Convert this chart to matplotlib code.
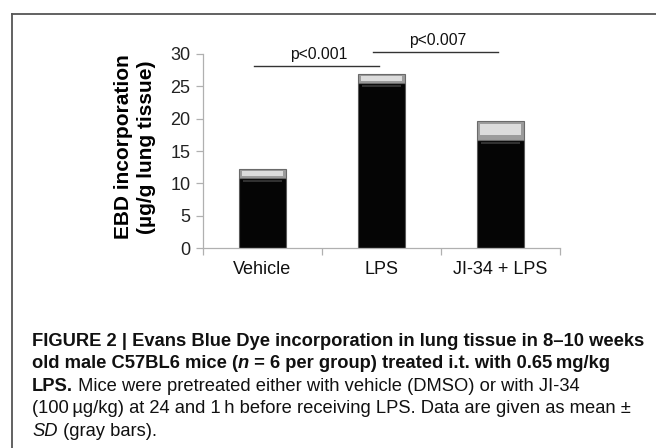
import matplotlib
matplotlib.use("Agg")
import matplotlib.pyplot as plt
from matplotlib import font_manager
from matplotlib.lines import Line2D

categories = ["Vehicle", "LPS", "JI-34 + LPS"]
means = [10.8, 25.5, 16.75]
sds = [1.4, 1.4, 2.95]
yticks = [0, 5, 10, 15, 20, 25, 30]
comparisons = [(0, 1, "p<0.001", 28.1), (1, 2, "p<0.007", 30.3)]

names = {f.name for f in font_manager.fontManager.ttflist}
chart_font = "Liberation Sans" if "Liberation Sans" in names else "DejaVu Sans"
cap_font = "Liberation Sans Narrow" if "Liberation Sans Narrow" in names else chart_font

plt.rcParams["font.family"] = chart_font

W, H = 656, 448
fig = plt.figure(figsize=(W / 100, H / 100), dpi=100)

ax = fig.add_axes([203 / W, 1 - 248 / H, 357 / W, 194 / H])
x = list(range(len(categories)))
bw = 0.4
ax.bar(x, means, width=bw, color="#050505", edgecolor="#5a5a5a", linewidth=0.8, zorder=2)
ax.hlines([m - 0.45 for m in means], [i - bw * 0.42 for i in x], [i + bw * 0.42 for i in x],
          color="#3a3a3a", lw=1.2, zorder=3)
ax.bar(x, sds, bottom=means, width=bw, color="#9c9c9c", edgecolor="#6a6a6a", linewidth=0.8, zorder=2)
ax.bar(x, [s * 0.55 for s in sds], bottom=[m + s * 0.25 for m, s in zip(means, sds)],
       width=bw * 0.88, color="#dcdcdc", edgecolor="none", zorder=3)

ax.set_xlim(-0.5, 2.5)
ax.set_ylim(0, 30)
ax.set_yticks(yticks)
ax.set_xticks(x)
ax.set_xticklabels(categories, fontsize=13)
ax.set_xticks([-0.5, 0.5, 1.5, 2.5], minor=True)
ax.tick_params(axis="x", which="major", length=0, pad=9, labelcolor="#111")
ax.tick_params(axis="x", which="minor", length=5, color="#b0b0b0", width=0.9)
ax.tick_params(axis="y", length=5, color="#b0b0b0", width=0.9, labelsize=13, pad=4, labelcolor="#222")
for s in ["top", "right"]:
    ax.spines[s].set_visible(False)
for s in ["left", "bottom"]:
    ax.spines[s].set_color("#b0b0b0")
    ax.spines[s].set_linewidth(0.9)

for a, b, label, yv in comparisons:
    ax.plot([a - 0.07, b - 0.02], [yv, yv], color="#333333", lw=1.0, clip_on=False)
    ax.text((a + b) / 2 - 0.03, yv + 0.7, label, ha="center", va="bottom", fontsize=11.3, color="#111")

fig.text(135 / W, 1 - 147 / H, "EBD incorporation\n(\u00b5g/g lung tissue)", rotation=90,
         ha="center", va="center", fontsize=15, fontweight="bold", linespacing=1.3)

# frame
fig.add_artist(Line2D([12 / W, 12 / W], [0, 1 - 14 / H], color="#555555", lw=1.3))
fig.add_artist(Line2D([12 / W, 1], [1 - 14 / H, 1 - 14 / H], color="#555555", lw=1.3))

# caption
fig.canvas.draw()
renderer = fig.canvas.get_renderer()
cap_size = 13.2
lines = [
    [("FIGURE 2 | Evans Blue Dye incorporation in lung tissue in 8\u201310 weeks", "bold", "normal")],
    [("old male C57BL6 mice (", "bold", "normal"), ("n", "bold", "italic"),
     (" = 6 per group) treated i.t. with 0.65\u2009mg/kg", "bold", "normal")],
    [("LPS.", "bold", "normal"), (" Mice were pretreated either with vehicle (DMSO) or with JI-34", "normal", "normal")],
    [("(100\u2009\u00b5g/kg) at 24 and 1\u2009h before receiving LPS. Data are given as mean \u00b1", "normal", "normal")],
    [("SD", "normal", "italic"), (" (gray bars).", "normal", "normal")],
]
y0 = 341
dy = 22.6
for i, segs in enumerate(lines):
    xp = 32
    yp = y0 + i * dy
    for txt, wt, st in segs:
        t = fig.text(xp / W, 1 - yp / H, txt, fontsize=cap_size, fontweight=wt, fontstyle=st,
                     family=[cap_font, "DejaVu Sans"], ha="left", va="center", color="#111")
        bb = t.get_window_extent(renderer=renderer)
        xp = bb.x1

fig.savefig("out.png", dpi=100)
